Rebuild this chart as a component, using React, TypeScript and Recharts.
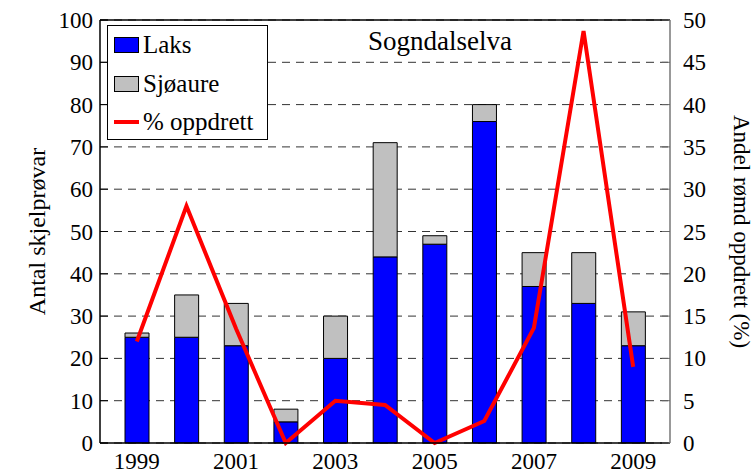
import { ComposedChart, Bar, Line, XAxis, YAxis, CartesianGrid, ReferenceLine } from 'recharts';

const years = ['1999', '2000', '2001', '2002', '2003', '2004', '2005', '2006', '2007', '2008', '2009'];
const laks = [25, 25, 23, 5, 20, 44, 47, 76, 37, 33, 23];
const sjoaure = [1, 10, 10, 3, 10, 27, 2, 4, 8, 12, 8];
const oppdrett = [12, 28, 13.5, 0, 5, 4.5, 0, 2.6, 13.6, 48.7, 9];
const leftTicks = [0, 10, 20, 30, 40, 50, 60, 70, 80, 90, 100];
const rightTicks = [0, 5, 10, 15, 20, 25, 30, 35, 40, 45, 50];

const FONT = "'Liberation Serif', 'Times New Roman', serif";
const BLUE = '#0000FF';
const GREY = '#C0C0C0';
const RED = '#FF0000';

const data = years.map((year, i) => ({
  year,
  laks: laks[i],
  sjoaure: sjoaure[i],
  oppdrett: oppdrett[i],
}));

// tick text plus a short tick mark pointing into the plot
const LeftTick = (props: any) => {
  const { x, y, payload } = props;
  return (
    <g>
      <text x={x} y={y} dy="0.35em" textAnchor="end" fontFamily={FONT} fontSize={23} fill="#000">
        {payload.value}
      </text>
      <line x1={x + 7} x2={x + 15} y1={y} y2={y} stroke="#000" strokeWidth={1} />
    </g>
  );
};

const RightTick = (props: any) => {
  const { x, y, payload } = props;
  return (
    <g>
      <text x={x} y={y} dy="0.35em" textAnchor="start" fontFamily={FONT} fontSize={23} fill="#000">
        {payload.value}
      </text>
      <line x1={x - 13} x2={x - 21} y1={y} y2={y} stroke="#666" strokeWidth={1} />
    </g>
  );
};

const BottomTick = (props: any) => {
  const { x, y, payload } = props;
  return (
    <text x={x} y={y} dy="0.71em" textAnchor="middle" fontFamily={FONT} fontSize={23} fill="#000">
      {payload.value}
    </text>
  );
};

const legendItems = [
  { name: 'Laks', type: 'box', color: BLUE },
  { name: 'Sjøaure', type: 'box', color: GREY },
  { name: '% oppdrett', type: 'line', color: RED },
];

export default function App() {
  return (
    <div style={{ position: 'relative', width: 753, height: 475, fontFamily: FONT }}>
      <style>{`body{margin:0}`}</style>
      <ComposedChart width={753} height={475} data={data} margin={{ top: 20, right: 0, bottom: 0, left: 0 }}>
        <CartesianGrid yAxisId="left" vertical={false} stroke="#333" strokeDasharray="8 6" />
        <XAxis
          dataKey="year"
          interval={1}
          tickLine={false}
          tickSize={0}
          tickMargin={10}
          height={32}
          padding={{ left: 12, right: 12 }}
          axisLine={{ stroke: '#000', strokeWidth: 1.5 }}
          tick={<BottomTick />}
        />
        <YAxis
          yAxisId="left"
          domain={[0, 100]}
          ticks={leftTicks}
          width={100}
          tickLine={false}
          tickSize={0}
          tickMargin={7}
          axisLine={{ stroke: '#000', strokeWidth: 1.5 }}
          tick={<LeftTick />}
          label={({ viewBox }: any) => (
            <text
              x={37}
              y={viewBox.y + viewBox.height / 2}
              transform={`rotate(-90, 37, ${viewBox.y + viewBox.height / 2})`}
              textAnchor="middle"
              dominantBaseline="central"
              fontFamily={FONT}
              fontSize={24}
              fill="#000"
            >
              Antal skjelprøvar
            </text>
          )}
        />
        <YAxis
          yAxisId="right"
          orientation="right"
          domain={[0, 50]}
          ticks={rightTicks}
          width={83}
          tickLine={false}
          tickSize={0}
          tickMargin={13}
          axisLine={{ stroke: '#777', strokeWidth: 1.5 }}
          tick={<RightTick />}
          label={({ viewBox }: any) => (
            <text
              x={741}
              y={viewBox.y + viewBox.height / 2}
              transform={`rotate(90, 741, ${viewBox.y + viewBox.height / 2})`}
              textAnchor="middle"
              dominantBaseline="central"
              fontFamily={FONT}
              fontSize={23}
              fill="#000"
            >
              Andel rømd oppdrett (%)
            </text>
          )}
        />
        <ReferenceLine yAxisId="left" y={100} stroke="#000" strokeWidth={1.5} />
        <Bar yAxisId="left" dataKey="laks" stackId="a" fill={BLUE} stroke="#000" strokeWidth={1} barSize={24} isAnimationActive={false} />
        <Bar yAxisId="left" dataKey="sjoaure" stackId="a" fill={GREY} stroke="#000" strokeWidth={1} barSize={24} isAnimationActive={false} />
        <Line yAxisId="right" dataKey="oppdrett" stroke={RED} strokeWidth={4} dot={false} activeDot={false} isAnimationActive={false} />
      </ComposedChart>

      <div
        style={{
          position: 'absolute',
          left: 107,
          top: 25,
          width: 159,
          height: 113,
          border: '1px solid #000',
          background: '#fff',
        }}
      >
        {legendItems.map((item, i) => (
          <div
            key={item.name}
            style={{ position: 'absolute', left: 6, top: 4 + i * 38.5, height: 30, display: 'flex', alignItems: 'center', fontSize: 25, whiteSpace: 'nowrap' }}
          >
            {item.type === 'box' ? (
              <span style={{ width: 23, height: 14, background: item.color, border: '1px solid #000', marginRight: 4 }} />
            ) : (
              <span style={{ width: 25, height: 4, background: item.color, marginRight: 4 }} />
            )}
            <span>{item.name}</span>
          </div>
        ))}
      </div>

      <div style={{ position: 'absolute', left: 368, top: 26, fontSize: 27, whiteSpace: 'nowrap' }}>Sogndalselva</div>
    </div>
  );
}
